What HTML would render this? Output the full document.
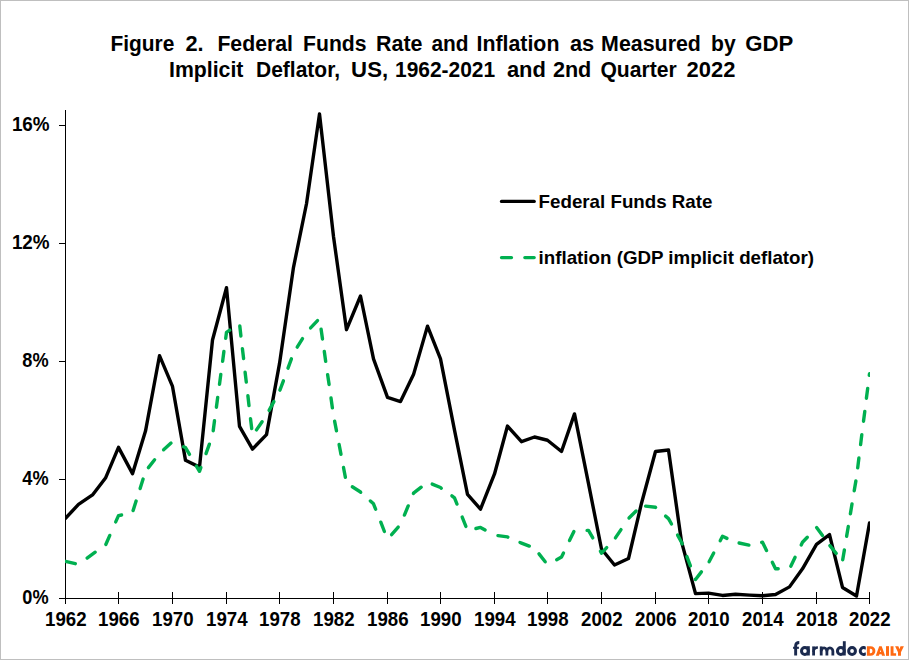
<!DOCTYPE html>
<html><head><meta charset="utf-8"><title>Figure 2</title>
<style>
html,body{margin:0;padding:0;background:#fff;}
body{width:909px;height:660px;overflow:hidden;position:relative;font-family:"Liberation Sans",sans-serif;}
svg{position:absolute;left:0;top:0;display:block;}
text{font-family:"Liberation Sans",sans-serif;font-weight:bold;fill:#000;}
.t{font-size:21.33px;}
.a{font-size:18.67px;}
</style></head><body>
<svg width="909" height="660" viewBox="0 0 909 660">
<rect x="0.5" y="0.5" width="908" height="659" fill="#fff" stroke="#bfbfbf" stroke-width="1"/>

<text class="t" transform="translate(110.50,50.5) scale(0.9802,1)">Figure</text>
<text class="t" transform="translate(185.50,50.5) scale(1.0200,1)">2.</text>
<text class="t" transform="translate(217.38,50.5) scale(0.9966,1)">Federal</text>
<text class="t" transform="translate(303.12,50.5) scale(0.9919,1)">Funds</text>
<text class="t" transform="translate(376.00,50.5) scale(1.0057,1)">Rate</text>
<text class="t" transform="translate(431.38,50.5) scale(0.9790,1)">and</text>
<text class="t" transform="translate(476.50,50.5) scale(1.0000,1)">Inflation</text>
<text class="t" transform="translate(569.88,50.5) scale(1.0225,1)">as</text>
<text class="t" transform="translate(601.12,50.5) scale(1.0026,1)">Measured</text>
<text class="t" transform="translate(711.12,50.5) scale(0.9892,1)">by</text>
<text class="t" transform="translate(745.25,50.5) scale(1.0393,1)">GDP</text>
<text class="t" transform="translate(169.00,76.75) scale(0.9966,1)">Implicit</text>
<text class="t" transform="translate(256.00,76.75) scale(0.9849,1)">Deflator,</text>
<text class="t" transform="translate(351.12,76.75) scale(1.0400,1)">US,</text>
<text class="t" transform="translate(395.00,76.75) scale(0.9825,1)">1962-2021</text>
<text class="t" transform="translate(506.88,76.75) scale(1.0280,1)">and</text>
<text class="t" transform="translate(552.88,76.75) scale(1.0140,1)">2nd</text>
<text class="t" transform="translate(600.38,76.75) scale(0.9901,1)">Quarter</text>
<text class="t" transform="translate(686.62,76.75) scale(1.0273,1)">2022</text>
<g stroke="#000" stroke-width="1" shape-rendering="crispEdges" fill="none">
<line x1="65.5" y1="110" x2="65.5" y2="599"/>
<line x1="65" y1="598.5" x2="870" y2="598.5"/>
<line x1="59" y1="598.5" x2="66" y2="598.5"/>
<line x1="59" y1="479.5" x2="66" y2="479.5"/>
<line x1="59" y1="361.5" x2="66" y2="361.5"/>
<line x1="59" y1="243.5" x2="66" y2="243.5"/>
<line x1="59" y1="125.5" x2="66" y2="125.5"/>
<line x1="65.5" y1="592" x2="65.5" y2="604"/>
<line x1="118.5" y1="592" x2="118.5" y2="604"/>
<line x1="172.5" y1="592" x2="172.5" y2="604"/>
<line x1="226.5" y1="592" x2="226.5" y2="604"/>
<line x1="279.5" y1="592" x2="279.5" y2="604"/>
<line x1="333.5" y1="592" x2="333.5" y2="604"/>
<line x1="387.5" y1="592" x2="387.5" y2="604"/>
<line x1="440.5" y1="592" x2="440.5" y2="604"/>
<line x1="494.5" y1="592" x2="494.5" y2="604"/>
<line x1="547.5" y1="592" x2="547.5" y2="604"/>
<line x1="601.5" y1="592" x2="601.5" y2="604"/>
<line x1="655.5" y1="592" x2="655.5" y2="604"/>
<line x1="708.5" y1="592" x2="708.5" y2="604"/>
<line x1="762.5" y1="592" x2="762.5" y2="604"/>
<line x1="816.5" y1="592" x2="816.5" y2="604"/>
<line x1="869.5" y1="592" x2="869.5" y2="604"/>
</g>
<text class="a" text-anchor="end" transform="translate(48.6,603.90) scale(0.975,1.04)">0%</text>
<text class="a" text-anchor="end" transform="translate(48.6,484.90) scale(0.975,1.04)">4%</text>
<text class="a" text-anchor="end" transform="translate(48.6,366.90) scale(0.975,1.04)">8%</text>
<text class="a" text-anchor="end" transform="translate(49.6,248.90) scale(1.01,1.04)">12%</text>
<text class="a" text-anchor="end" transform="translate(49.6,130.90) scale(1.01,1.04)">16%</text>
<text class="a" text-anchor="middle" transform="translate(65.80,626) scale(1,1.04)">1962</text>
<text class="a" text-anchor="middle" transform="translate(118.80,626) scale(1,1.04)">1966</text>
<text class="a" text-anchor="middle" transform="translate(172.80,626) scale(1,1.04)">1970</text>
<text class="a" text-anchor="middle" transform="translate(226.80,626) scale(1,1.04)">1974</text>
<text class="a" text-anchor="middle" transform="translate(279.80,626) scale(1,1.04)">1978</text>
<text class="a" text-anchor="middle" transform="translate(333.80,626) scale(1,1.04)">1982</text>
<text class="a" text-anchor="middle" transform="translate(387.80,626) scale(1,1.04)">1986</text>
<text class="a" text-anchor="middle" transform="translate(440.80,626) scale(1,1.04)">1990</text>
<text class="a" text-anchor="middle" transform="translate(494.80,626) scale(1,1.04)">1994</text>
<text class="a" text-anchor="middle" transform="translate(547.80,626) scale(1,1.04)">1998</text>
<text class="a" text-anchor="middle" transform="translate(601.80,626) scale(1,1.04)">2002</text>
<text class="a" text-anchor="middle" transform="translate(655.80,626) scale(1,1.04)">2006</text>
<text class="a" text-anchor="middle" transform="translate(708.80,626) scale(1,1.04)">2010</text>
<text class="a" text-anchor="middle" transform="translate(762.80,626) scale(1,1.04)">2014</text>
<text class="a" text-anchor="middle" transform="translate(816.80,626) scale(1,1.04)">2018</text>
<text class="a" text-anchor="middle" transform="translate(869.80,626) scale(1,1.04)">2022</text>
<defs><clipPath id="pc"><rect x="65" y="100" width="805" height="505"/></clipPath></defs>
<g clip-path="url(#pc)">
<polyline points="65.50,518.29 78.50,504.39 92.50,494.93 105.50,478.08 118.50,447.34 132.50,473.65 145.50,431.08 159.50,355.69 172.50,386.44 185.50,460.34 199.50,467.14 212.50,340.02 226.50,287.70 239.50,426.35 252.50,449.11 266.50,434.62 279.50,363.67 293.50,267.30 306.50,203.74 319.50,113.87 333.50,236.55 346.50,329.68 360.50,295.98 373.50,358.94 387.50,397.38 400.50,401.51 413.50,374.61 427.50,326.13 440.50,358.94 454.50,430.19 467.50,494.34 480.50,509.12 494.50,473.94 507.50,426.05 521.50,441.72 534.50,436.99 547.50,440.24 561.50,451.47 574.50,413.93 588.50,483.70 601.50,549.03 614.50,564.99 628.50,558.49 641.50,503.21 655.50,451.47 668.50,450.00 681.50,541.64 695.50,593.67 708.50,593.08 722.50,595.44 735.50,594.26 749.50,595.15 762.50,595.74 775.50,594.56 789.50,586.87 802.50,568.84 816.50,544.30 829.50,534.54 842.50,587.46 856.50,596.03 869.50,523.02" fill="none" stroke="#000" stroke-width="3.4" stroke-linecap="round" stroke-linejoin="round"/>
<g fill="none" stroke="#00b050" stroke-width="3.4" stroke-linecap="round" stroke-linejoin="round">
<polyline points="65.5,561.4 75.3,563.7"/>
<polyline points="87.1,558.1 92.5,554.1 95.2,552.2"/>
<polyline points="105.8,544.5 109.8,535.4"/>
<polyline points="115.7,521.9 118.5,515.6 121.6,515.0"/>
<polyline points="133.1,510.6 136.1,501.1"/>
<polyline points="140.1,488.6 143.1,479.1"/>
<polyline points="148.4,467.6 154.6,459.8"/>
<polyline points="163.6,449.8 171.0,443.1"/>
<polyline points="183.6,446.8 185.5,447.6 189.5,454.4"/>
<polyline points="196.4,466.1 199.5,471.3 200.9,467.5"/>
<polyline points="206.0,453.6 209.4,444.2"/>
<polyline points="213.2,430.7 214.5,420.8"/>
<polyline points="216.4,407.3 217.7,397.4"/>
<polyline points="219.5,384.4 220.8,374.4"/>
<polyline points="222.6,361.4 223.9,351.5"/>
<polyline points="225.7,338.4 226.5,332.3 229.7,330.1"/>
<polyline points="239.8,326.0 240.9,336.0"/>
<polyline points="242.4,348.6 243.6,358.5"/>
<polyline points="245.1,372.2 246.3,382.1"/>
<polyline points="247.9,395.7 249.0,405.6"/>
<polyline points="250.5,418.6 251.7,428.5"/>
<polyline points="256.5,429.9 262.1,421.7"/>
<polyline points="269.1,410.4 273.9,401.6"/>
<polyline points="279.9,390.2 283.4,380.8"/>
<polyline points="288.0,368.2 291.4,358.8"/>
<polyline points="297.2,347.1 302.5,338.6"/>
<polyline points="310.6,327.9 317.5,320.6"/>
<polyline points="321.1,329.2 322.5,339.1"/>
<polyline points="324.3,351.5 325.7,361.4"/>
<polyline points="327.6,374.6 329.1,384.5"/>
<polyline points="331.0,398.0 332.4,407.9"/>
<polyline points="334.6,421.1 336.5,430.9"/>
<polyline points="339.1,444.5 341.0,454.4"/>
<polyline points="343.5,467.5 345.4,477.4"/>
<polyline points="352.3,486.8 360.5,492.0 360.7,492.2"/>
<polyline points="370.4,501.0 373.5,503.8 375.6,509.2"/>
<polyline points="380.8,522.2 384.4,531.5"/>
<polyline points="391.6,534.6 398.2,527.1"/>
<polyline points="404.4,515.1 408.2,505.9"/>
<polyline points="413.4,493.4 413.5,493.2 421.2,487.2"/>
<polyline points="432.2,484.1 440.5,487.5 441.3,488.2"/>
<polyline points="451.9,495.9 454.5,497.9 457.0,504.1"/>
<polyline points="462.2,517.1 465.9,526.4"/>
<polyline points="475.9,528.5 480.5,527.4 485.1,530.0"/>
<polyline points="498.0,535.6 507.5,536.9 507.8,537.1"/>
<polyline points="520.0,542.5 521.5,543.1 529.3,546.1"/>
<polyline points="539.0,553.9 545.2,561.8"/>
<polyline points="556.7,559.7 561.5,557.0 563.5,553.0"/>
<polyline points="569.5,540.6 573.9,531.6"/>
<polyline points="587.1,530.4 588.5,530.4 592.8,537.9"/>
<polyline points="600.4,551.2 601.5,553.2 606.7,547.6"/>
<polyline points="615.4,537.9 621.0,529.6"/>
<polyline points="629.0,518.0 636.1,511.0"/>
<polyline points="645.6,506.1 655.5,507.3 655.6,507.4"/>
<polyline points="665.6,516.1 668.5,518.6 671.5,524.0"/>
<polyline points="677.6,535.1 681.5,542.2 682.2,544.0"/>
<polyline points="686.9,556.6 690.4,565.9"/>
<polyline points="695.4,579.1 695.5,579.5 701.4,571.9"/>
<polyline points="709.1,561.8 713.7,553.0"/>
<polyline points="720.2,540.7 722.5,536.3 727.0,538.4"/>
<polyline points="739.1,543.0 748.9,545.1"/>
<polyline points="761.7,542.4 762.5,542.2 766.5,550.5"/>
<polyline points="772.3,562.2 775.5,568.8 778.2,568.8"/>
<polyline points="790.8,566.3 795.1,557.3"/>
<polyline points="801.2,545.0 802.5,542.2 807.3,537.2"/>
<polyline points="816.6,527.5 822.5,535.6"/>
<polyline points="829.9,545.6 836.2,553.4"/>
<polyline points="842.7,559.8 844.4,549.9"/>
<polyline points="846.6,536.4 848.3,526.5"/>
<polyline points="850.4,513.8 852.0,503.9"/>
<polyline points="854.2,490.7 855.9,480.9"/>
<polyline points="857.7,467.9 858.9,458.0"/>
<polyline points="860.6,444.6 861.8,434.6"/>
<polyline points="863.5,421.3 864.8,411.4"/>
<polyline points="866.4,398.3 867.7,388.4"/>
<polyline points="869.3,375.3 869.5,373.7"/>
</g>
</g>
<line x1="501.5" y1="201.4" x2="534.2" y2="201.4" stroke="#000" stroke-width="3.33" stroke-linecap="round"/>
<line x1="501.5" y1="257.6" x2="534.2" y2="257.6" stroke="#00b050" stroke-width="3.33" stroke-linecap="round" stroke-dasharray="10 13.33"/>
<text class="a" style="font-size:18.74px" x="538.6" y="208">Federal Funds Rate</text>
<text class="a" style="font-size:18.74px" x="538.6" y="263.9">inflation (GDP implicit deflator)</text>
<defs><clipPath id="cc"><rect x="855" y="640" width="10.8" height="20"/></clipPath></defs>
<g fill="none" stroke="#1b2a4e" stroke-width="3">
<path d="M795.65,655.5 V645.8 Q795.65,642.5 799.3,642.5" stroke-width="2.9"/>
<path d="M793.1,647.8 H798.9" stroke-width="2.1"/>
<circle cx="804.9" cy="651" r="3.4"/>
<path d="M808.35,646.2 V655.5" stroke-width="2.9"/>
<path d="M813.6,655.5 V646.4" stroke-width="2.8"/>
<path d="M813.6,652 Q813.6,647.5 817.9,647.5" stroke-width="2.4"/>
<path d="M821.2,655.5 V646.4" stroke-width="2.8"/>
<path d="M821.2,651.3 A2.85,3.5 0 0 1 826.9,651.3 V655.5" stroke-width="2.8"/>
<path d="M826.9,651.3 A2.97,3.5 0 0 1 832.85,651.3 V655.5" stroke-width="2.8"/>
<circle cx="840.85" cy="651" r="3.4"/>
<path d="M844.3,641.2 V655.5" stroke-width="2.9"/>
<circle cx="852.05" cy="651" r="3.4"/>
<path d="M866.3,648.9 A3.4,3.4 0 1 0 866.3,653.1" clip-path="url(#cc)"/>
</g>
<g fill="#ff6a13" fill-rule="evenodd">
<path d="M866.9,646.15 H870.6 A4.8,4.85 0 0 1 870.6,655.85 H866.9 Z M869.8,648.8 H870.5 A2,2.2 0 0 1 870.5,653.2 H869.8 Z"/>
<path d="M875.8,655.85 L879.2,646.15 H881.7 L885.1,655.85 H882 L881.5,654.2 H879.4 L878.9,655.85 Z M880.45,649.7 L881,652 H879.9 Z"/>
<path d="M886,646.15 H889 V655.85 H886 Z"/>
<path d="M890.6,646.15 H893.5 V653.3 H896.1 V655.85 H890.6 Z"/>
<path d="M895.1,646.15 H898.4 L899.45,649.3 L900.5,646.15 H903.9 L900.95,652.3 V655.85 H898 V652.3 Z"/>
</g>

</svg></body></html>
